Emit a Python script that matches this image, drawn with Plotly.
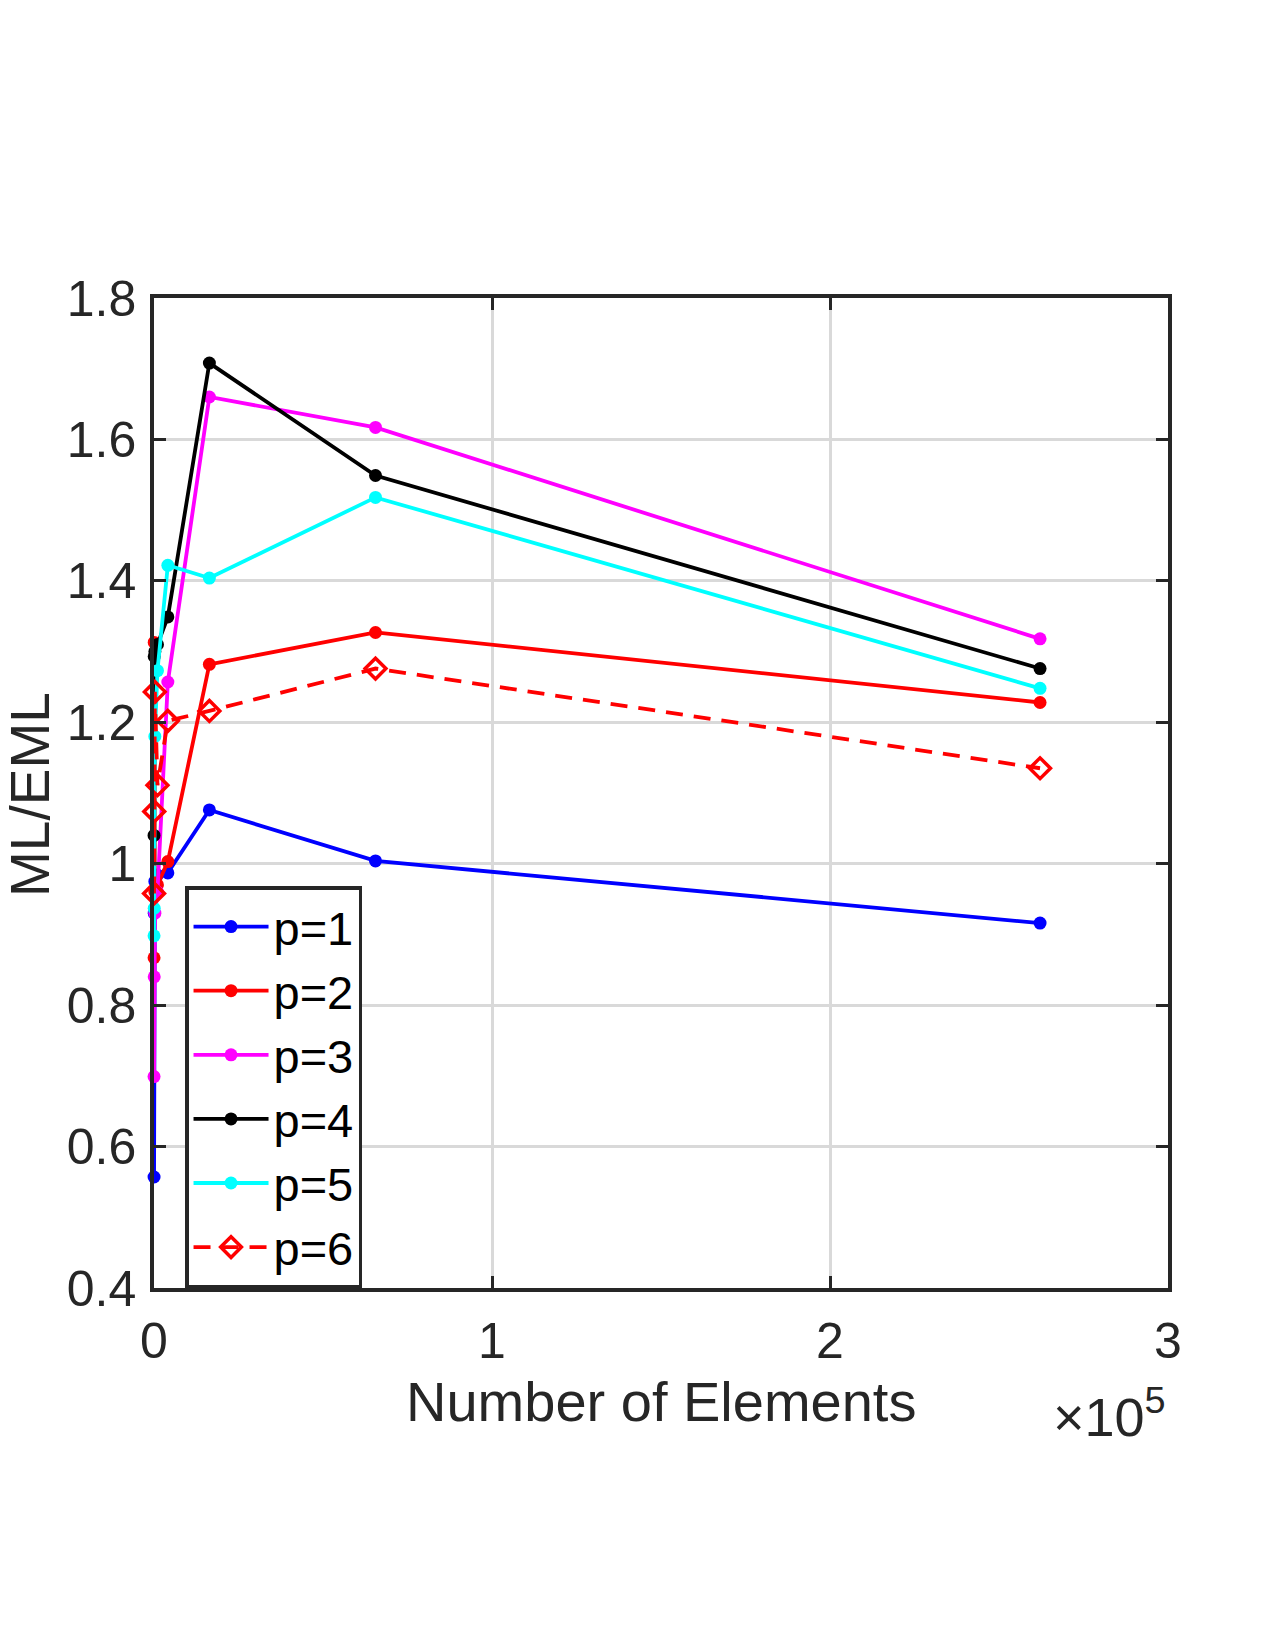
import plotly.graph_objects as go

# Number of elements
n_elements = [16, 64, 256, 1024, 4096, 16384, 65536, 262144]

# ML/EML ratios per polynomial degree
p1 = [0.557, 0.93, 0.975, 0.984, 0.987, 1.076, 1.004, 0.916]
p2 = [0.867, 1.313, 0.96, 0.97, 1.003, 1.282, 1.327, 1.228]
p3 = [0.699, 0.840, 0.93, 0.96, 1.257, 1.660, 1.617, 1.318]
p4 = [1.040, 1.293, 1.30, 1.31, 1.349, 1.708, 1.549, 1.276]
p5 = [0.898, 0.937, 1.180, 1.273, 1.422, 1.404, 1.518, 1.248]
p6 = [0.958, 1.074, 1.243, 1.111, 1.202, 1.216, 1.276, 1.135]

series_names = ["p=1", "p=2", "p=3", "p=4", "p=5", "p=6"]
series_vals = [p1, p2, p3, p4, p5, p6]
series_colors = ["#0000ff", "#ff0000", "#ff00ff", "#000000", "#00ffff", "#ff0000"]

x_tickvals = [0, 100000, 200000, 300000]
x_ticktext = ["0", "1", "2", "3"]
y_tickvals = [0.4, 0.6, 0.8, 1.0, 1.2, 1.4, 1.6, 1.8]
y_ticktext = ["0.4", "0.6", "0.8", "1", "1.2", "1.4", "1.6", "1.8"]

FONT = "Liberation Sans, Arial, Helvetica, sans-serif"
AX = "#262626"

fig = go.Figure()
for name, vals, col in zip(series_names, series_vals, series_colors):
    if name == "p=6":
        line = dict(color=col, width=3.8, dash="17px,11px")
        marker = dict(symbol="diamond-open", size=16, color=col, line=dict(width=3.5, color=col))
    else:
        line = dict(color=col, width=3.8)
        marker = dict(symbol="circle", size=13, color=col)
    fig.add_trace(go.Scatter(x=n_elements, y=vals, mode="lines+markers", name=name,
                             line=line, marker=marker, cliponaxis=False))

axis_common = dict(showline=True, linewidth=3.5, linecolor=AX, mirror="ticks",
                   ticks="inside", ticklen=12, tickwidth=3, tickcolor=AX,
                   showgrid=True, gridcolor="#d9d9d9", gridwidth=2.5,
                   zeroline=False, tickfont=dict(family=FONT, size=50, color=AX))

fig.update_xaxes(range=[0, 300000], tickvals=x_tickvals, ticktext=x_ticktext,
                 ticklabelstandoff=6, **axis_common)
fig.update_yaxes(range=[0.4, 1.8], tickvals=y_tickvals, ticktext=y_ticktext,
                 ticklabelstandoff=4, **axis_common)

fig.update_layout(
    width=1275, height=1650,
    margin=dict(l=154, r=107, t=298, b=362),
    paper_bgcolor="white", plot_bgcolor="white",
    font=dict(family=FONT, color=AX),
    showlegend=True,
    legend=dict(x=0.0306, y=0.406, xanchor="left", yanchor="top",
                bgcolor="white", bordercolor=AX, borderwidth=3.5,
                font=dict(family=FONT, size=47, color="#000000"),
                tracegroupgap=0, itemwidth=75),
    annotations=[
        dict(text="Number of Elements", xref="paper", yref="paper", x=0.5, y=-0.115,
             xanchor="center", yanchor="middle", showarrow=False,
             font=dict(family=FONT, size=56, color=AX)),
        dict(text="ML/EML", xref="paper", yref="paper", x=-0.1223, y=0.499,
             xanchor="center", yanchor="middle", textangle=-90, showarrow=False,
             font=dict(family=FONT, size=55, color=AX)),
        dict(text="×10<sup>5</sup>", xref="paper", yref="paper", x=1.0, y=-0.09,
             xanchor="right", yanchor="top", showarrow=False,
             font=dict(family=FONT, size=54, color=AX)),
    ],
)

fig.write_html("out.html")
